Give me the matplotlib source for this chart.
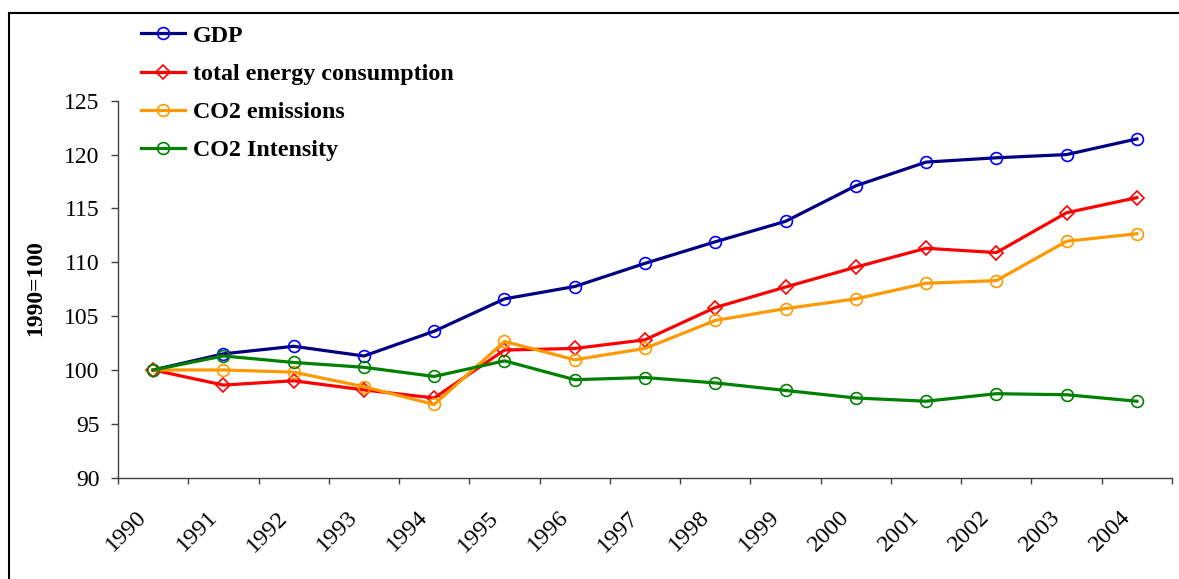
import matplotlib
matplotlib.use("Agg")
from matplotlib import pyplot as plt
from matplotlib.lines import Line2D
from matplotlib.transforms import ScaledTranslation
import numpy as np

years = ["1990", "1991", "1992", "1993", "1994", "1995", "1996", "1997",
         "1998", "1999", "2000", "2001", "2002", "2003", "2004"]
gdp = [100, 101.5, 102.2, 101.3, 103.6, 106.6, 107.75, 109.9,
       111.9, 113.8, 117.1, 119.3, 119.7, 120.0, 121.45]
energy = [100, 98.6, 99.0, 98.15, 97.4, 101.85, 102.0, 102.8,
          105.8, 107.7, 109.55, 111.3, 110.9, 114.6, 116.0]
co2 = [100, 100.0, 99.8, 98.45, 96.8, 102.65, 100.95, 102.0,
       104.6, 105.7, 106.6, 108.05, 108.3, 111.95, 112.65]
intensity = [100, 101.3, 100.7, 100.25, 99.4, 100.85, 99.1, 99.3,
             98.8, 98.1, 97.4, 97.1, 97.8, 97.7, 97.1]

plt.rcParams['font.family'] = ['Liberation Serif', 'DejaVu Serif']

W, H = 1179, 579
fig = plt.figure(figsize=(W / 100, H / 100), dpi=100)
ax = fig.add_axes([118 / W, 1 - 477.7 / H, (1172 - 118) / W, (477.7 - 100.7) / H])

x = np.arange(len(years)) + 0.5
lw = 2.3
ax.plot(x, gdp, color='#000080', lw=lw, marker='o', ms=8.5, mfc='none',
        mec='#0000FF', mew=1.2, label='GDP')
ax.plot(x, energy, color='#FF0000', lw=lw, marker='D', ms=7.5, mfc='none',
        mec='#FF0000', mew=1.2, label='total energy consumption')
ax.plot(x, co2, color='#FF9900', lw=lw, marker='o', ms=8.5, mfc='none',
        mec='#FF9900', mew=1.2, label='CO2 emissions')
ax.plot(x, intensity, color='#008000', lw=lw, marker='o', ms=8.5, mfc='none',
        mec='#008000', mew=1.2, label='CO2 Intensity')

ax.set_xlim(0, len(years))
ax.set_ylim(90, 125)
ax.set_yticks(np.arange(90, 126, 5))
ax.set_xticks(np.arange(0, len(years) + 1))
ax.set_xticklabels([])
ax.set_xticks(x, labels=years, minor=True)

for s in ['top', 'right']:
    ax.spines[s].set_visible(False)
for s in ['left', 'bottom']:
    ax.spines[s].set_color('#404040')
    ax.spines[s].set_linewidth(1.0)

ax.tick_params(axis='y', direction='out', length=5, width=1, color='#404040',
               pad=8.5, labelsize=17)
ax.tick_params(axis='x', which='major', direction='out', length=4.5, width=1,
               color='#404040')
ax.tick_params(axis='x', which='minor', length=0, pad=21, labelsize=17.5)
off = ScaledTranslation(-17 / 100, 0, fig.dpi_scale_trans)
for lab in ax.get_xticklabels(minor=True):
    lab.set_rotation(45)
    lab.set_ha('right')
    lab.set_va('top')
    lab.set_rotation_mode('anchor')
    lab.set_transform(lab.get_transform() + off)

fig.text(36 / W, 1 - 288 / H, '1990=100', rotation=90, ha='center', va='center',
         fontsize=17, fontweight='bold')

fig.legend(loc='upper left', bbox_to_anchor=(141 / W, 1 - 25 / H), frameon=False,
           prop={'size': 17.3, 'weight': 'bold'}, handlelength=1.85,
           handletextpad=0.3, labelspacing=0.68, borderaxespad=0, borderpad=0)

# frame around the chart area
fig.add_artist(Line2D([8.5 / W, 8.5 / W], [0, 1 - 12.5 / H], color='black', lw=1.5,
                      transform=fig.transFigure))
fig.add_artist(Line2D([8.5 / W, 1], [1 - 12.5 / H, 1 - 12.5 / H], color='black',
                      lw=1.5, transform=fig.transFigure))

fig.savefig('out.png', dpi=100)
